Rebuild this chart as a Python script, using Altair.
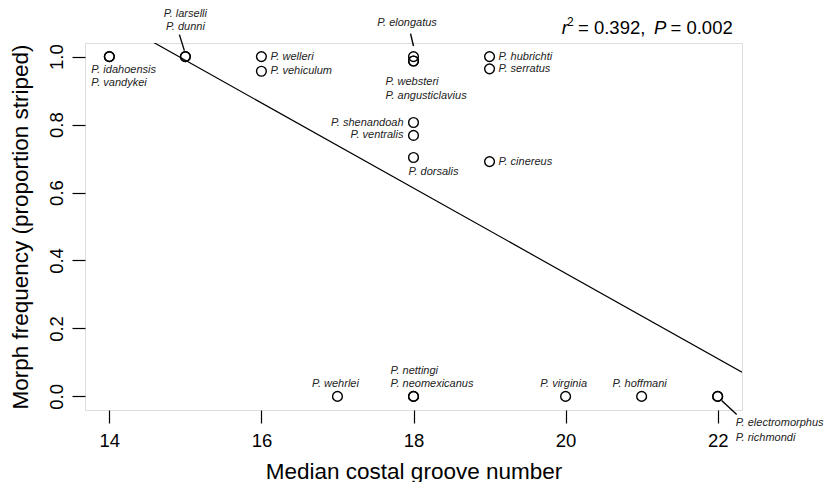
import altair as alt
import pandas as pd

# ---------------- data ----------------
species = ["idahoensis", "vandykei", "larselli", "dunni", "welleri", "vehiculum",
           "elongatus", "websteri", "angusticlavius", "shenandoah", "ventralis",
           "dorsalis", "hubrichti", "serratus", "cinereus", "wehrlei", "nettingi",
           "neomexicanus", "virginia", "hoffmani", "electromorphus", "richmondi"]
groove = [14, 14, 15, 15, 16, 16, 18, 18, 18, 18, 18, 18, 19, 19, 19, 17, 18, 18,
          20, 21, 22, 22]
freq = [1.0, 1.0, 1.0, 1.0, 1.0, 0.957, 1.0, 0.987, 0.987, 0.806, 0.768, 0.703,
        1.0, 0.964, 0.691, 0.0, 0.0, 0.0, 0.0, 0.0, 0.0, 0.0]
placement = ["idah1", "idah2", "lars1", "lars2", "right", "right", "elong", "webst",
             "angus", "left", "left", "dors", "right", "right", "right", "above",
             "nett1", "nett2", "above", "above", "elec1", "elec2"]

x_ticks = [14, 16, 18, 20, 22]
y_ticks = [0.0, 0.2, 0.4, 0.6, 0.8, 1.0]
x_domain = [13.68, 22.32]
y_domain = [-0.04, 1.04]

# ---------------- styling ----------------
FONT = "Liberation Sans"
PLOT_W, PLOT_H = 657, 367
LABEL_STYLE = {  # align, dx, dy
    "right": ("left", 9, 0),
    "left": ("right", -10, 0),
    "above": ("center", -2, -12),
    "idah1": ("left", -18, 13),
    "idah2": ("left", -18, 26),
    "lars1": ("center", 0, -43),
    "lars2": ("center", 0, -30),
    "elong": ("center", -6.5, -34),
    "webst": ("left", -28, 20.5),
    "angus": ("left", -28, 34.5),
    "dors": ("left", -5, 14),
    "nett1": ("left", -23, -25),
    "nett2": ("left", -23, -12),
    "elec1": ("left", 18, 26.5),
    "elec2": ("left", 18, 42),
}
LEADERS = {  # xOffset, yOffset, x2Offset, y2Offset
    "larselli": (-6, -22, -1, -6),
    "elongatus": (-3, -23, 0, -10.6),
    "electromorphus": (4, 4, 19, 18),
}

df = pd.DataFrame({
    "species": species,
    "groove": groove,
    "freq": freq,
    "label": ["P. " + s for s in species],
    "place": placement,
})

xscale = alt.Scale(domain=x_domain, nice=False, zero=False)
yscale = alt.Scale(domain=y_domain, nice=False, zero=False)

base = alt.Chart(df)

x_enc = alt.X("groove:Q", scale=xscale, axis=alt.Axis(
    values=x_ticks, format="d", title="Median costal groove number",
    grid=False, domain=False, tickSize=13, tickColor="black", tickWidth=1.2,
    labelFontSize=18.5, labelColor="black", labelFont=FONT,
    labelBaseline="alphabetic", labelPadding=23,
    titleFontSize=22.5, titleFont=FONT, titleFontWeight="normal", titleColor="black",
    titleBaseline="alphabetic", titleY=68, titleX=PLOT_W / 2, titleAlign="center"))
y_enc = alt.Y("freq:Q", scale=yscale, axis=alt.Axis(
    values=y_ticks, format=".1f", title="Morph frequency (proportion striped)",
    grid=False, domain=False, tickSize=13, tickColor="black", tickWidth=1.2,
    labelFontSize=18.5, labelColor="black", labelFont=FONT, labelAngle=270,
    labelAlign="center", labelBaseline="alphabetic", labelPadding=10,
    titleFontSize=22.5, titleFont=FONT, titleFontWeight="normal", titleColor="black",
    titleAngle=270, titleBaseline="alphabetic", titleX=-57.3, titleY=PLOT_H / 2,
    titleAlign="center"))

points = base.mark_point(shape="circle", filled=False, size=95, strokeWidth=1.4,
                         color="black", opacity=1).encode(x=x_enc, y=y_enc)

reg = base.transform_regression("groove", "freq", extent=x_domain).mark_line(
    clip=True, color="black", strokeWidth=1.2).encode(
    x=alt.X("groove:Q", scale=xscale), y=alt.Y("freq:Q", scale=yscale))

layers = [reg, points]

for key, (align, dx, dy) in LABEL_STYLE.items():
    layers.append(
        base.transform_filter(alt.datum.place == key).mark_text(
            align=align, baseline="middle", dx=dx, dy=dy, fontSize=11,
            fontStyle="italic", font=FONT, color="#222222").encode(
            x=alt.X("groove:Q", scale=xscale), y=alt.Y("freq:Q", scale=yscale),
            text="label:N"))

for sp, (ox, oy, ox2, oy2) in LEADERS.items():
    layers.append(
        base.transform_filter(alt.datum.species == sp).mark_rule(
            color="black", strokeWidth=1.4, xOffset=ox, yOffset=oy,
            x2Offset=ox2, y2Offset=oy2).encode(
            x=alt.X("groove:Q", scale=xscale), x2="groove",
            y=alt.Y("freq:Q", scale=yscale), y2="freq"))

# annotation r^2 = 0.392, P = 0.002 (anchored at top-right corner of plot)
anno = [("r", -180.3, -9, "italic", 18.5),
        ("2", -175, -17, "normal", 12),
        ("= 0.392,", -164, -9, "normal", 18.5),
        ("P", -88, -9, "italic", 18.5),
        ("= 0.002", -71.5, -9, "normal", 18.5)]
for txt, dx, dy, style, fs in anno:
    layers.append(
        alt.Chart(pd.DataFrame({"t": [txt]})).mark_text(
            align="left", baseline="alphabetic", dx=dx, dy=dy, fontSize=fs,
            fontStyle=style, font=FONT, color="black").encode(
            x=alt.value(PLOT_W), y=alt.value(0), text="t:N"))

chart = alt.layer(*layers).properties(
    width=PLOT_W, height=PLOT_H,
    autosize=alt.AutoSizeParams(type="none"),
    padding={"left": 77, "top": 35, "right": 83, "bottom": 72},
).configure_view(stroke="black", strokeWidth=1.3).configure(background="white")

chart.save("out.html", embed_options={"renderer": "svg", "actions": False})
